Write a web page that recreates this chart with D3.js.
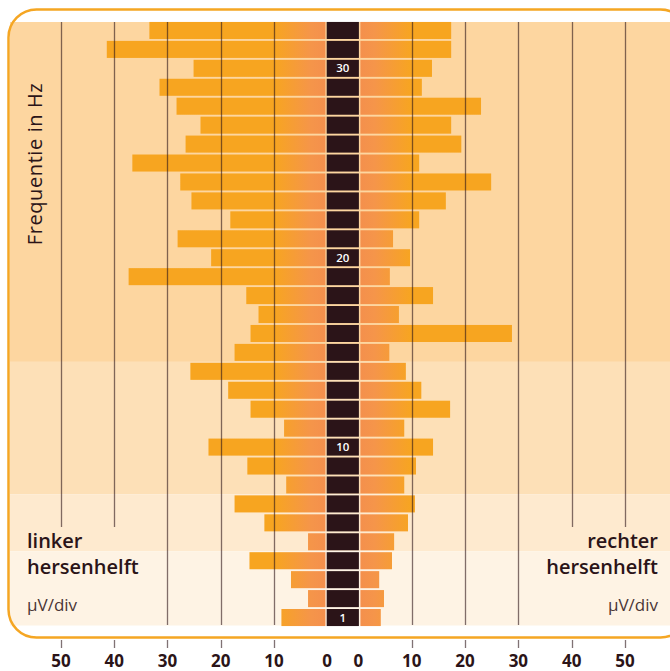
<!DOCTYPE html>
<html>
<head>
<meta charset="utf-8">
<script src="https://cdn.jsdelivr.net/npm/d3@7"></script>
<style>
  body { margin: 0; background: #fff; }
  svg { display: block; }
</style>
</head>
<body>
<div id="chart"></div>
<script>
// frequenties (Hz), van boven naar beneden
const frequencies = d3.range(32, 0, -1);
// amplitude linker hersenhelft (µV/div), volgorde 32 -> 1
const leftValues = [33.4, 41.4, 25.1, 31.5, 28.3, 23.8, 26.6, 36.6, 27.6, 25.5, 18.2,
  28.1, 21.8, 37.3, 15.2, 12.9, 14.4, 17.4, 25.7, 18.6, 14.4, 8.1,
  22.3, 15.0, 7.7, 17.4, 11.8, 3.6, 14.6, 6.8, 3.6, 8.6];
// amplitude rechter hersenhelft (µV/div), volgorde 32 -> 1
const rightValues = [17.4, 17.4, 13.8, 11.9, 23.0, 17.4, 19.3, 11.4, 24.9, 16.4, 11.4,
  6.5, 9.7, 5.9, 14.0, 7.6, 28.8, 5.8, 8.9, 11.8, 17.2, 8.6,
  14.0, 10.8, 8.6, 10.6, 9.3, 6.7, 6.3, 3.9, 4.8, 4.2];
const labelledFreqs = [30, 20, 10, 1];
const tickValues = [50, 40, 30, 20, 10, 0];
// frequentiebanden (achtergrond)
const bandFrom = [15, 8, 5, 1];
const bandTo = [32, 14, 7, 4];
const bandColors = ["#fdd6a0", "#fde0b7", "#feeacf", "#fef3e4"];

const width = 670, height = 671;
const dark = "#2b1418";

const svg = d3.select("#chart").append("svg")
  .attr("width", width)
  .attr("height", height)
  .attr("font-family", "'Open Sans', 'Noto Sans', sans-serif");

const y = d3.scaleBand()
  .domain(frequencies)
  .range([21, 627])
  .paddingInner(0.1)
  .paddingOuter(0.05);
const xL = d3.scaleLinear().domain([0, 50]).range([327.2, 61]);
const xR = d3.scaleLinear().domain([0, 50]).range([358.4, 625]);
const half = y.step() * 0.05;

const defs = svg.append("defs");
function grad(id, x1, x2) {
  const g = defs.append("linearGradient").attr("id", id)
    .attr("gradientUnits", "userSpaceOnUse")
    .attr("x1", x1).attr("x2", x2).attr("y1", 0).attr("y2", 0);
  g.append("stop").attr("offset", 0).attr("stop-color", "#f48f4d");
  g.append("stop").attr("offset", 0.3).attr("stop-color", "#f5954a");
  g.append("stop").attr("offset", 1).attr("stop-color", "#f7a520");
}
grad("gradL", xL(0), xL(10));
grad("gradR", xR(0), xR(10));

// achtergrondbanden
const bands = bandFrom.map((f, i) => ({from: f, to: bandTo[i], color: bandColors[i]}));
const bandTop = d => d.to === 32 ? 22 : y(d.to) - half;
const bandBottom = d => d.from === 1 ? 625.5 : y(d.from) + y.bandwidth() + half;
svg.append("g").selectAll("rect")
  .data(bands)
  .join("rect")
  .attr("x", 10)
  .attr("width", 680)
  .attr("y", bandTop)
  .attr("height", d => bandBottom(d) - bandTop(d))
  .attr("fill", d => d.color);

// kader
svg.append("rect")
  .attr("x", 8.5).attr("y", 9.5)
  .attr("width", 680).attr("height", 628)
  .attr("rx", 28)
  .attr("fill", "none")
  .attr("stroke", "#f5a623")
  .attr("stroke-width", 2.5);

// balken links
svg.append("g").selectAll("rect")
  .data(frequencies)
  .join("rect")
  .attr("x", (d, i) => xL(leftValues[i]))
  .attr("y", d => y(d))
  .attr("width", (d, i) => xL(0) - 1.8 - xL(leftValues[i]))
  .attr("height", y.bandwidth())
  .attr("fill", "url(#gradL)");

// balken rechts
svg.append("g").selectAll("rect")
  .data(frequencies)
  .join("rect")
  .attr("x", xR(0) + 2)
  .attr("y", d => y(d))
  .attr("width", (d, i) => xR(rightValues[i]) - xR(0) - 2)
  .attr("height", y.bandwidth())
  .attr("fill", "url(#gradR)");

// middenkolom
svg.append("g").selectAll("rect")
  .data(frequencies)
  .join("rect")
  .attr("x", xL(0) - 0.5)
  .attr("y", d => y(d))
  .attr("width", xR(0) - xL(0) + 1)
  .attr("height", y.bandwidth())
  .attr("fill", dark);

svg.append("g").selectAll("text")
  .data(labelledFreqs)
  .join("text")
  .attr("x", (xL(0) + xR(0)) / 2)
  .attr("y", d => y(d) + y.bandwidth() / 2)
  .attr("dy", "0.36em")
  .attr("text-anchor", "middle")
  .attr("fill", "#fff")
  .attr("font-size", 11.5)
  .attr("font-weight", 600)
  .text(d => d);

// rasterlijnen
const gridTicks = tickValues.filter(v => v > 0);
function gridLines(scale) {
  svg.append("g").selectAll("line")
    .data(gridTicks)
    .join("line")
    .attr("x1", d => Math.round(scale(d)) + 0.5)
    .attr("x2", d => Math.round(scale(d)) + 0.5)
    .attr("y1", 22)
    .attr("y2", d => d >= 40 ? 527 : 625)
    .attr("stroke", dark)
    .attr("stroke-opacity", 0.6)
    .attr("stroke-width", 1.3);
}
gridLines(xL);
gridLines(xR);

// assen onder
function axis(scale) {
  const g = svg.append("g").attr("transform", "translate(0,640)");
  g.selectAll("line")
    .data(gridTicks)
    .join("line")
    .attr("x1", d => Math.round(scale(d)) + 0.5)
    .attr("x2", d => Math.round(scale(d)) + 0.5)
    .attr("y1", 0).attr("y2", 8)
    .attr("stroke", dark)
    .attr("stroke-opacity", 0.6)
    .attr("stroke-width", 1.3);
  g.selectAll("text")
    .data(tickValues)
    .join("text")
    .attr("x", d => scale(d))
    .attr("y", 27)
    .attr("text-anchor", "middle")
    .attr("font-size", 17)
    .attr("font-weight", 700)
    .attr("fill", dark)
    .text(d => d);
}
axis(xL);
axis(xR);

// teksten
svg.append("text")
  .attr("transform", "translate(42,164) rotate(-90)")
  .attr("text-anchor", "middle")
  .attr("font-size", 20)
  .attr("letter-spacing", 0.6)
  .attr("fill", dark)
  .text("Frequentie in Hz");

function sideLabel(x, anchor, first) {
  const g = svg.append("g").attr("fill", dark).attr("text-anchor", anchor);
  g.append("text").attr("x", x).attr("y", 548)
    .attr("font-size", 20).attr("font-weight", 600).text(first);
  g.append("text").attr("x", x).attr("y", 574)
    .attr("font-size", 20).attr("font-weight", 600).text("hersenhelft");
  g.append("text").attr("x", x).attr("y", 611)
    .attr("font-size", 17).attr("fill", "#4a3535").text("µV/div");
}
sideLabel(27, "start", "linker");
sideLabel(658, "end", "rechter");
</script>
</body>
</html>
